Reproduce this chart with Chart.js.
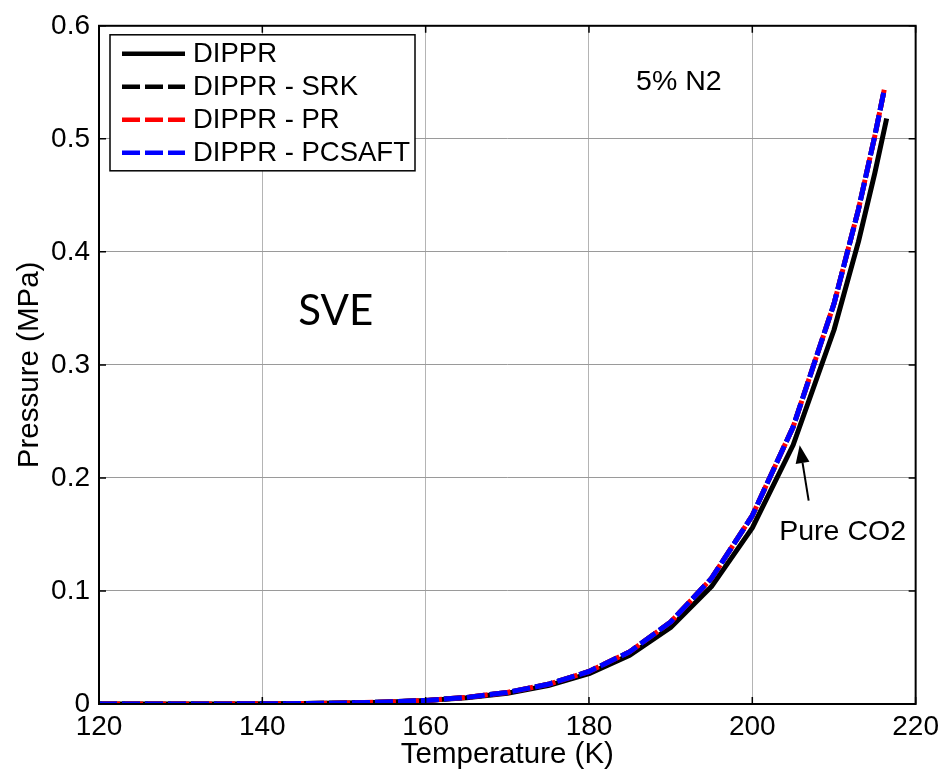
<!DOCTYPE html>
<html>
<head>
<meta charset="utf-8">
<script src="https://cdn.jsdelivr.net/npm/chart.js@4.4.0/dist/chart.umd.min.js"></script>
<style>
  html, body { margin: 0; padding: 0; background: #fff; }
  #wrap { width: 945px; height: 772px; }
</style>
</head>
<body>
<div id="wrap"><canvas id="chart" width="945" height="772"></canvas></div>
<script>
// temperatures (K) and pressures (MPa)
const tempPure = [120, 125, 130, 135, 140, 145, 150, 155, 160, 165, 170, 175, 180, 185, 190, 195, 200, 205, 210, 213, 215, 216.45];
const presPure = [0.0000041, 0.0000118, 0.0000312, 0.000077, 0.000177, 0.000387, 0.0008, 0.00158, 0.00299, 0.00544, 0.00956, 0.01627, 0.02688, 0.04322, 0.06778, 0.10386, 0.15581, 0.22914, 0.33089, 0.40906, 0.46968, 0.518];

const tempMix = [120, 125, 130, 135, 140, 145, 150, 155, 160, 165, 170, 175, 180, 185, 190, 195, 200, 205, 210, 213, 215, 216.2];
const presSRK = [0.0000044, 0.0000126, 0.0000334, 0.000082, 0.000189, 0.000414, 0.000856, 0.00169, 0.0032, 0.00582, 0.01023, 0.01741, 0.02876, 0.04625, 0.07252, 0.11113, 0.16672, 0.24518, 0.35405, 0.43769, 0.50256, 0.545];
const presPR = [0.0000044, 0.0000126, 0.0000334, 0.000082, 0.000189, 0.000414, 0.000856, 0.00169, 0.0032, 0.00582, 0.01023, 0.01741, 0.02876, 0.04625, 0.07252, 0.11113, 0.16672, 0.24518, 0.35405, 0.43769, 0.50256, 0.545];
const presPCSAFT = [0.0000044, 0.0000126, 0.0000334, 0.000082, 0.000189, 0.000414, 0.000856, 0.00169, 0.0032, 0.00582, 0.01023, 0.01741, 0.02876, 0.04625, 0.07252, 0.11113, 0.16672, 0.24518, 0.35405, 0.43769, 0.50256, 0.545];

const seriesNames = ['DIPPR', 'DIPPR - SRK', 'DIPPR - PR', 'DIPPR - PCSAFT'];
const xTicks = [120, 140, 160, 180, 200, 220];
const yTicks = [0, 0.1, 0.2, 0.3, 0.4, 0.5, 0.6];

const FONT = "'Liberation Sans', Arial, sans-serif";
const DASH = [18, 5];

const toPoints = (xs, ys) => xs.map((x, i) => ({ x: x, y: ys[i] }));

// MATLAB-ish box, inward ticks, text notes and the legend
const matlabFrame = {
  id: 'matlabFrame',
  afterDatasetsDraw(chart) {
    const { ctx, chartArea: a, scales: { x, y } } = chart;
    ctx.save();

    ctx.strokeStyle = '#000';
    ctx.lineWidth = 1.5;
    ctx.beginPath();
    xTicks.forEach(v => {
      const px = x.getPixelForValue(v);
      ctx.moveTo(px, a.bottom); ctx.lineTo(px, a.bottom - 7);
      ctx.moveTo(px, a.top); ctx.lineTo(px, a.top + 7);
    });
    yTicks.forEach(v => {
      const py = y.getPixelForValue(v);
      ctx.moveTo(a.left, py); ctx.lineTo(a.left + 7, py);
      ctx.moveTo(a.right, py); ctx.lineTo(a.right - 7, py);
    });
    ctx.stroke();

    ctx.lineWidth = 2;
    ctx.strokeRect(a.left, a.top, a.right - a.left, a.bottom - a.top);

    // text notes
    ctx.fillStyle = '#000';
    ctx.font = "42px Lato, 'Open Sans', sans-serif";
    ctx.textAlign = 'center';
    ctx.textBaseline = 'middle';
    ctx.fillText('SVE', x.getPixelForValue(149), y.getPixelForValue(0.347));

    ctx.font = '28.5px ' + FONT;
    ctx.textBaseline = 'alphabetic';
    ctx.fillText('5% N2', x.getPixelForValue(191), y.getPixelForValue(0.543));
    ctx.textAlign = 'left';
    ctx.fillText('Pure CO2', x.getPixelForValue(203.3), y.getPixelForValue(0.145));

    // arrow to the pure CO2 curve
    const tx = x.getPixelForValue(206.9), ty = y.getPixelForValue(0.18);
    const hx = x.getPixelForValue(205.8), hy = y.getPixelForValue(0.229);
    const ang = Math.atan2(hy - ty, hx - tx);
    const hl = 18, hw = 7;
    const bx = hx - hl * Math.cos(ang), by = hy - hl * Math.sin(ang);
    ctx.lineWidth = 2;
    ctx.beginPath();
    ctx.moveTo(tx, ty); ctx.lineTo(bx, by);
    ctx.stroke();
    ctx.beginPath();
    ctx.moveTo(hx, hy);
    ctx.lineTo(bx + hw * Math.sin(ang), by - hw * Math.cos(ang));
    ctx.lineTo(bx - hw * Math.sin(ang), by + hw * Math.cos(ang));
    ctx.closePath();
    ctx.fill();

    // legend
    const lx = a.left + 11, ly = a.top + 9, lw = 305, lh = 136;
    ctx.fillStyle = '#fff';
    ctx.fillRect(lx, ly, lw, lh);
    ctx.strokeStyle = '#000';
    ctx.lineWidth = 1.5;
    ctx.strokeRect(lx, ly, lw, lh);
    ctx.font = '27.5px ' + FONT;
    ctx.textAlign = 'left';
    ctx.textBaseline = 'middle';
    chart.data.datasets.forEach((ds, i) => {
      const ry = ly + 19 + i * 33;
      ctx.save();
      ctx.strokeStyle = ds.borderColor;
      ctx.lineWidth = 4.5;
      ctx.setLineDash(ds.borderDash || []);
      ctx.beginPath();
      ctx.moveTo(lx + 12, ry);
      ctx.lineTo(lx + 75, ry);
      ctx.stroke();
      ctx.restore();
      ctx.fillStyle = '#000';
      ctx.fillText(ds.label, lx + 83, ry + 1);
    });

    ctx.restore();
  }
};

new Chart(document.getElementById('chart'), {
  type: 'line',
  data: {
    datasets: [
      { label: seriesNames[0], data: toPoints(tempPure, presPure), borderColor: '#000000', borderWidth: 5, order: 4 },
      { label: seriesNames[1], data: toPoints(tempMix, presSRK), borderColor: '#000000', borderWidth: 5, borderDash: DASH, order: 3 },
      { label: seriesNames[2], data: toPoints(tempMix, presPR), borderColor: '#ff0000', borderWidth: 5, borderDash: DASH, borderDashOffset: -3, order: 2 },
      { label: seriesNames[3], data: toPoints(tempMix, presPCSAFT), borderColor: '#0000ff', borderWidth: 5, borderDash: DASH, order: 1 }
    ]
  },
  options: {
    responsive: false,
    animation: false,
    parsing: false,
    layout: { autoPadding: false, padding: { top: 18, right: 27, left: 0, bottom: 0 } },
    elements: {
      point: { radius: 0, hoverRadius: 0 },
      line: { tension: 0, fill: false, borderCapStyle: 'butt', borderJoinStyle: 'round' }
    },
    plugins: {
      legend: { display: false },
      tooltip: { enabled: false }
    },
    scales: {
      x: {
        type: 'linear',
        min: 120,
        max: 220,
        afterBuildTicks: s => { s.ticks = xTicks.map(v => ({ value: v })); },
        afterFit: s => { s.height = 68; },
        grid: { color: '#b4b4b4', lineWidth: 1, drawTicks: false },
        border: { display: false },
        ticks: { autoSkip: false, maxRotation: 0, padding: 6, color: '#000', font: { family: FONT, size: 28 } },
        title: { display: true, text: 'Temperature (K)', color: '#000', font: { family: FONT, size: 29.5 }, padding: { top: 0, bottom: -1 } }
      },
      y: {
        type: 'linear',
        min: 0,
        max: 0.6,
        afterBuildTicks: s => { s.ticks = yTicks.map(v => ({ value: v })); },
        afterFit: s => { s.width = 99; },
        grid: { color: '#9a9a9a', lineWidth: 1, drawTicks: false },
        border: { display: false },
        ticks: {
          autoSkip: false,
          padding: 9,
          color: '#000',
          font: { family: FONT, size: 28 },
          callback: v => (v === 0 ? '0' : v.toFixed(1))
        },
        title: { display: true, text: 'Pressure (MPa)', color: '#000', font: { family: FONT, size: 29.5 }, padding: { top: 12, bottom: 0 } }
      }
    }
  },
  plugins: [matlabFrame]
});
</script>
</body>
</html>
